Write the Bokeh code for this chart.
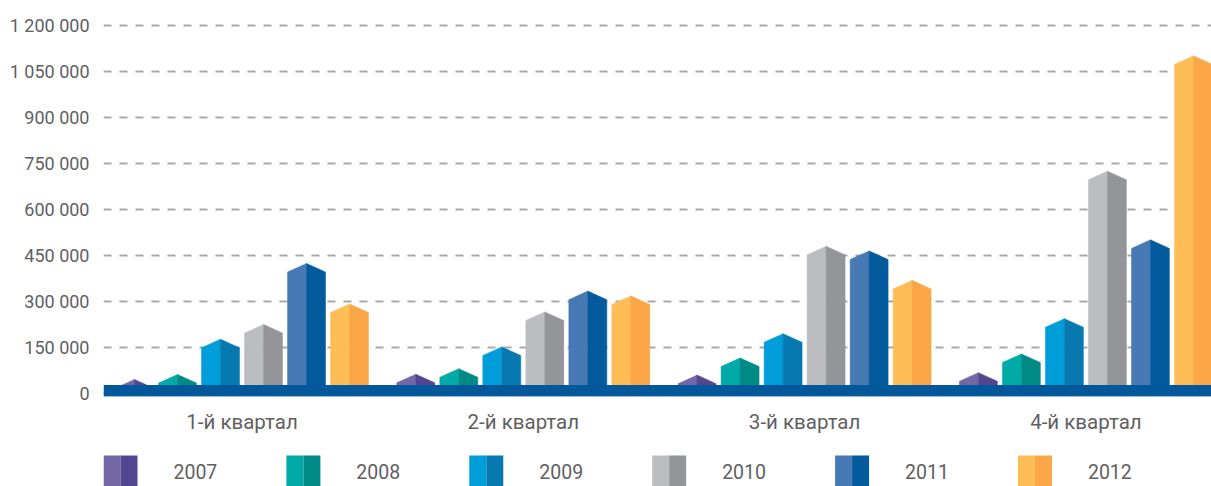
from bokeh.plotting import figure
from bokeh.models import Range1d, FixedTicker, Span, ColumnDataSource
from bokeh.embed import file_html
from bokeh.resources import INLINE
from bokeh.core.properties import value

# ---------------- data ----------------
quarters = ["1-й квартал", "2-й квартал", "3-й квартал", "4-й квартал"]
years = ["2007", "2008", "2009", "2010", "2011", "2012"]
v2007 = [17000, 34000, 31000, 39000]
v2008 = [33000, 52000, 87000, 100000]
v2009 = [148000, 123000, 166000, 215000]
v2010 = [196000, 237000, 451000, 696000]
v2011 = [395000, 305000, 436000, 472000]
v2012 = [263000, 289000, 340000, 1072000]
y_ticks = [0, 150000, 300000, 450000, 600000, 750000, 900000, 1050000, 1200000]
y_tick_labels = ["0", "150 000", "300 000", "450 000", "600 000", "750 000",
                 "900 000", "1 050 000", "1 200 000"]

light_colors = ["#7467A6", "#00AAA6", "#009DDB", "#BBBDC0", "#477AB4", "#FEBD57"]
dark_colors = ["#51468F", "#008A86", "#0779B0", "#939598", "#035A9C", "#FBA747"]
series = [v2007, v2008, v2009, v2010, v2011, v2012]

# ---------------- styling constants ----------------
FONT = "Roboto"
TXT = "#5F6062"
ROOF = 28000          # height of the roof tip above the shoulder
PITCH = 0.1529        # bar pitch in group units
HALF = 0.0675         # half bar width in group units

W = 1211
H = 486

p = figure(width=W, height=H, output_backend="svg", toolbar_location=None,
           x_range=Range1d(-0.4924, 3.4465), y_range=Range1d(-304250, 1234891),
           min_border_left=103, min_border_right=0, min_border_top=14,
           min_border_bottom=0)
p.outline_line_color = None
p.background_fill_color = "white"
p.border_fill_color = "white"
p.xaxis.visible = False

# grid
p.xgrid.visible = False
p.ygrid.ticker = FixedTicker(ticks=y_ticks)
p.ygrid.grid_line_color = "#A7A9AC"
p.ygrid.grid_line_width = 2
p.ygrid.grid_line_dash = "8 8"

# y axis
p.yaxis.ticker = FixedTicker(ticks=y_ticks)
p.yaxis.major_label_overrides = {t: l for t, l in zip(y_ticks, y_tick_labels)}
p.yaxis.axis_line_color = None
p.yaxis.major_tick_line_color = None
p.yaxis.minor_tick_line_color = None
p.yaxis.major_tick_out = 0
p.yaxis.major_tick_in = 0
p.yaxis.major_label_standoff = 14
p.yaxis.major_label_text_font = FONT
p.yaxis.major_label_text_font_size = "18px"
p.yaxis.major_label_text_color = TXT

# bars: two-tone prisms with a roof
xs, ys, cols = [], [], []
for j, vals in enumerate(series):
    for i, v in enumerate(vals):
        xc = i + (j - 2.5) * PITCH
        xs.append([xc - HALF, xc - HALF, xc, xc])
        ys.append([0, v, v + ROOF, 0])
        cols.append(light_colors[j])
        xs.append([xc, xc, xc + HALF, xc + HALF])
        ys.append([0, v + ROOF, v, 0])
        cols.append(dark_colors[j])
src = ColumnDataSource(dict(xs=xs, ys=ys, c=cols))
p.patches("xs", "ys", source=src, fill_color="c", line_color="c", line_width=0.5)

# base band
p.add_layout(Span(location=9130, dimension="width", line_color="#03589B", line_width=11))
p.add_layout(Span(location=-10900, dimension="width", line_color="#9DBBDD", line_width=1))

# quarter labels under each group
p.text(x=list(range(len(quarters))), y=[0] * len(quarters), text=quarters,
       y_offset=29, text_font=value(FONT), text_font_size="20.5px", text_color=TXT,
       text_align="center", text_baseline="alphabetic")

# ---------------- legend (own ranges) ----------------
p.extra_x_ranges = {"leg": Range1d(0, 6.058)}
p.extra_y_ranges = {"legy": Range1d(0, 1)}
SW = 0.1858
idx = list(range(len(years)))
p.quad(left=idx, right=[i + SW / 2 for i in idx], bottom=0, top=0.0657,
       fill_color=light_colors, line_color=None,
       x_range_name="leg", y_range_name="legy")
p.quad(left=[i + SW / 2 for i in idx], right=[i + SW for i in idx], bottom=0, top=0.0657,
       fill_color=dark_colors, line_color=None,
       x_range_name="leg", y_range_name="legy")
p.text(x=[i + 0.3825 for i in idx], y=[0.031] * len(years), text=years,
       text_font=value(FONT), text_font_size="19.5px", text_color=TXT,
       text_baseline="alphabetic", text_align="left",
       x_range_name="leg", y_range_name="legy")

open("out.html", "w").write(file_html(p, INLINE))
